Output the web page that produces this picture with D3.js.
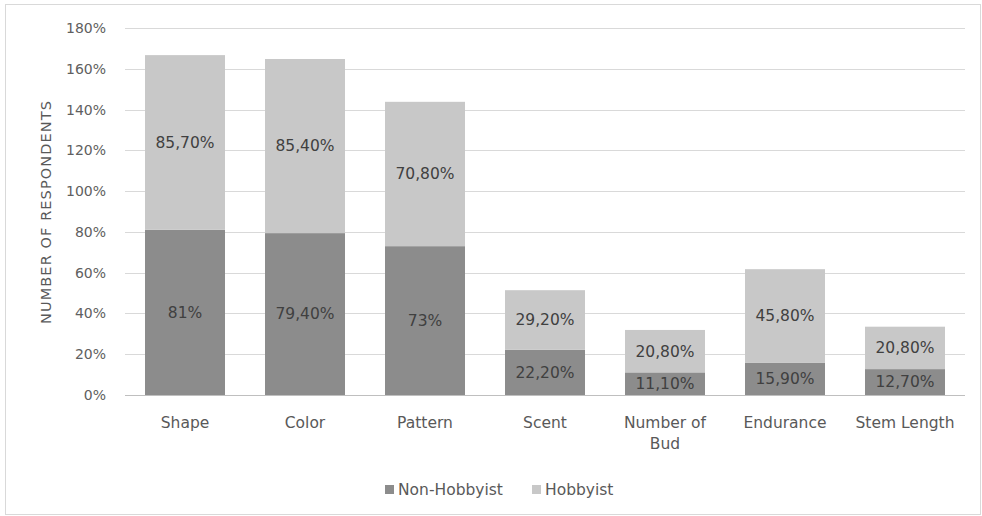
<!DOCTYPE html>
<html><head><meta charset="utf-8">
<script src="https://cdn.jsdelivr.net/npm/d3@7"></script>
<style>body{margin:0;background:#fff;font-family:"DejaVu Sans",sans-serif;}</style>
</head><body><svg id="c" width="982" height="516"></svg>
<script>
const categories = ["Shape","Color","Pattern","Scent","Number of Bud","Endurance","Stem Length"];
const nonHobbyist = [81, 79.4, 73, 22.2, 11.1, 15.9, 12.7];
const hobbyist = [85.7, 85.4, 70.8, 29.2, 20.8, 45.8, 20.8];
const nonHobbyistLabels = ["81%","79,40%","73%","22,20%","11,10%","15,90%","12,70%"];
const hobbyistLabels = ["85,70%","85,40%","70,80%","29,20%","20,80%","45,80%","20,80%"];
const yTicks = [0,20,40,60,80,100,120,140,160,180];
const seriesNames = ["Non-Hobbyist","Hobbyist"];
const colors = ["#8c8c8c","#c8c8c8"];
const FONT = "DejaVu Sans";

const svg = d3.select("#c");
svg.append("rect").attr("x",5.5).attr("y",4.5).attr("width",975).attr("height",510).attr("fill","#fff").attr("stroke","#d9d9d9");

const m = {l:125, r:965, t:28, b:395};
const x = d3.scaleBand().domain(categories).range([m.l, m.r]).paddingInner(1/3).paddingOuter(1/6);
const y = d3.scaleLinear().domain([0,180]).range([m.b, m.t]);

// gridlines
svg.append("g").selectAll("line").data(yTicks.filter(d=>d>0)).join("line")
  .attr("x1",m.l).attr("x2",m.r).attr("y1",d=>Math.round(y(d))+0.5).attr("y2",d=>Math.round(y(d))+0.5)
  .attr("stroke","#d9d9d9");

// y axis labels
const yAxis = svg.append("g").attr("transform",`translate(${m.l-19},0)`)
  .call(d3.axisLeft(y).tickValues(yTicks).tickFormat(d=>d+"%").tickSize(0).tickPadding(0));
yAxis.select(".domain").remove();
yAxis.selectAll("text").attr("font-size",14).attr("fill","#606060").attr("font-family",FONT);

// stacked data
const data = categories.map((c,i)=>({cat:c, a:nonHobbyist[i], b:hobbyist[i]}));
const stack = d3.stack().keys(["a","b"])(data);

stack.forEach((layer,li)=>{
  svg.append("g").selectAll("rect").data(layer).join("rect")
    .attr("x",d=>x(d.data.cat)).attr("width",x.bandwidth())
    .attr("y",d=>y(d[1])).attr("height",d=>y(d[0])-y(d[1]))
    .attr("fill",colors[li]);
});

// axis line
svg.append("line").attr("x1",m.l).attr("x2",m.r).attr("y1",m.b+0.5).attr("y2",m.b+0.5).attr("stroke","#bfbfbf");

// labels
const labs = [nonHobbyistLabels, hobbyistLabels];
stack.forEach((layer,li)=>{
  svg.append("g").selectAll("text").data(layer).join("text")
    .attr("x",d=>x(d.data.cat)+x.bandwidth()/2)
    .attr("y",d=>y((d[0]+d[1])/2))
    .attr("dy","0.35em").attr("text-anchor","middle")
    .attr("font-family",FONT).attr("font-size",15.5).attr("fill","#404040")
    .text((d,i)=>labs[li][i]);
});

// x axis labels
const xl = svg.append("g").selectAll("text").data(categories).join("text")
  .attr("x",d=>x(d)+x.bandwidth()/2).attr("y",428)
  .attr("text-anchor","middle").attr("font-family",FONT).attr("font-size",15.5).attr("fill","#595959");
xl.each(function(d){
  const t = d3.select(this);
  const lines = d==="Number of Bud" ? ["Number of","Bud"] : [d];
  lines.forEach((ln,k)=>t.append("tspan").attr("x",x(d)+x.bandwidth()/2).attr("dy",k?21:0).text(ln));
});

// y title
svg.append("text").attr("transform","translate(51,212) rotate(-90)")
  .attr("text-anchor","middle").attr("font-family",FONT).attr("font-size",14.5)
  .attr("letter-spacing",1.1).attr("fill","#595959")
  .text("NUMBER OF RESPONDENTS");

// legend
const leg = svg.append("g");
const legX = [385, 532];
seriesNames.forEach((n,i)=>{
  leg.append("rect").attr("x",legX[i]).attr("y",485).attr("width",9).attr("height",9).attr("fill",colors[i]);
  leg.append("text").attr("x",legX[i]+13).attr("y",495).attr("font-family",FONT).attr("font-size",15.5).attr("fill","#595959").text(n);
});
</script></body></html>
